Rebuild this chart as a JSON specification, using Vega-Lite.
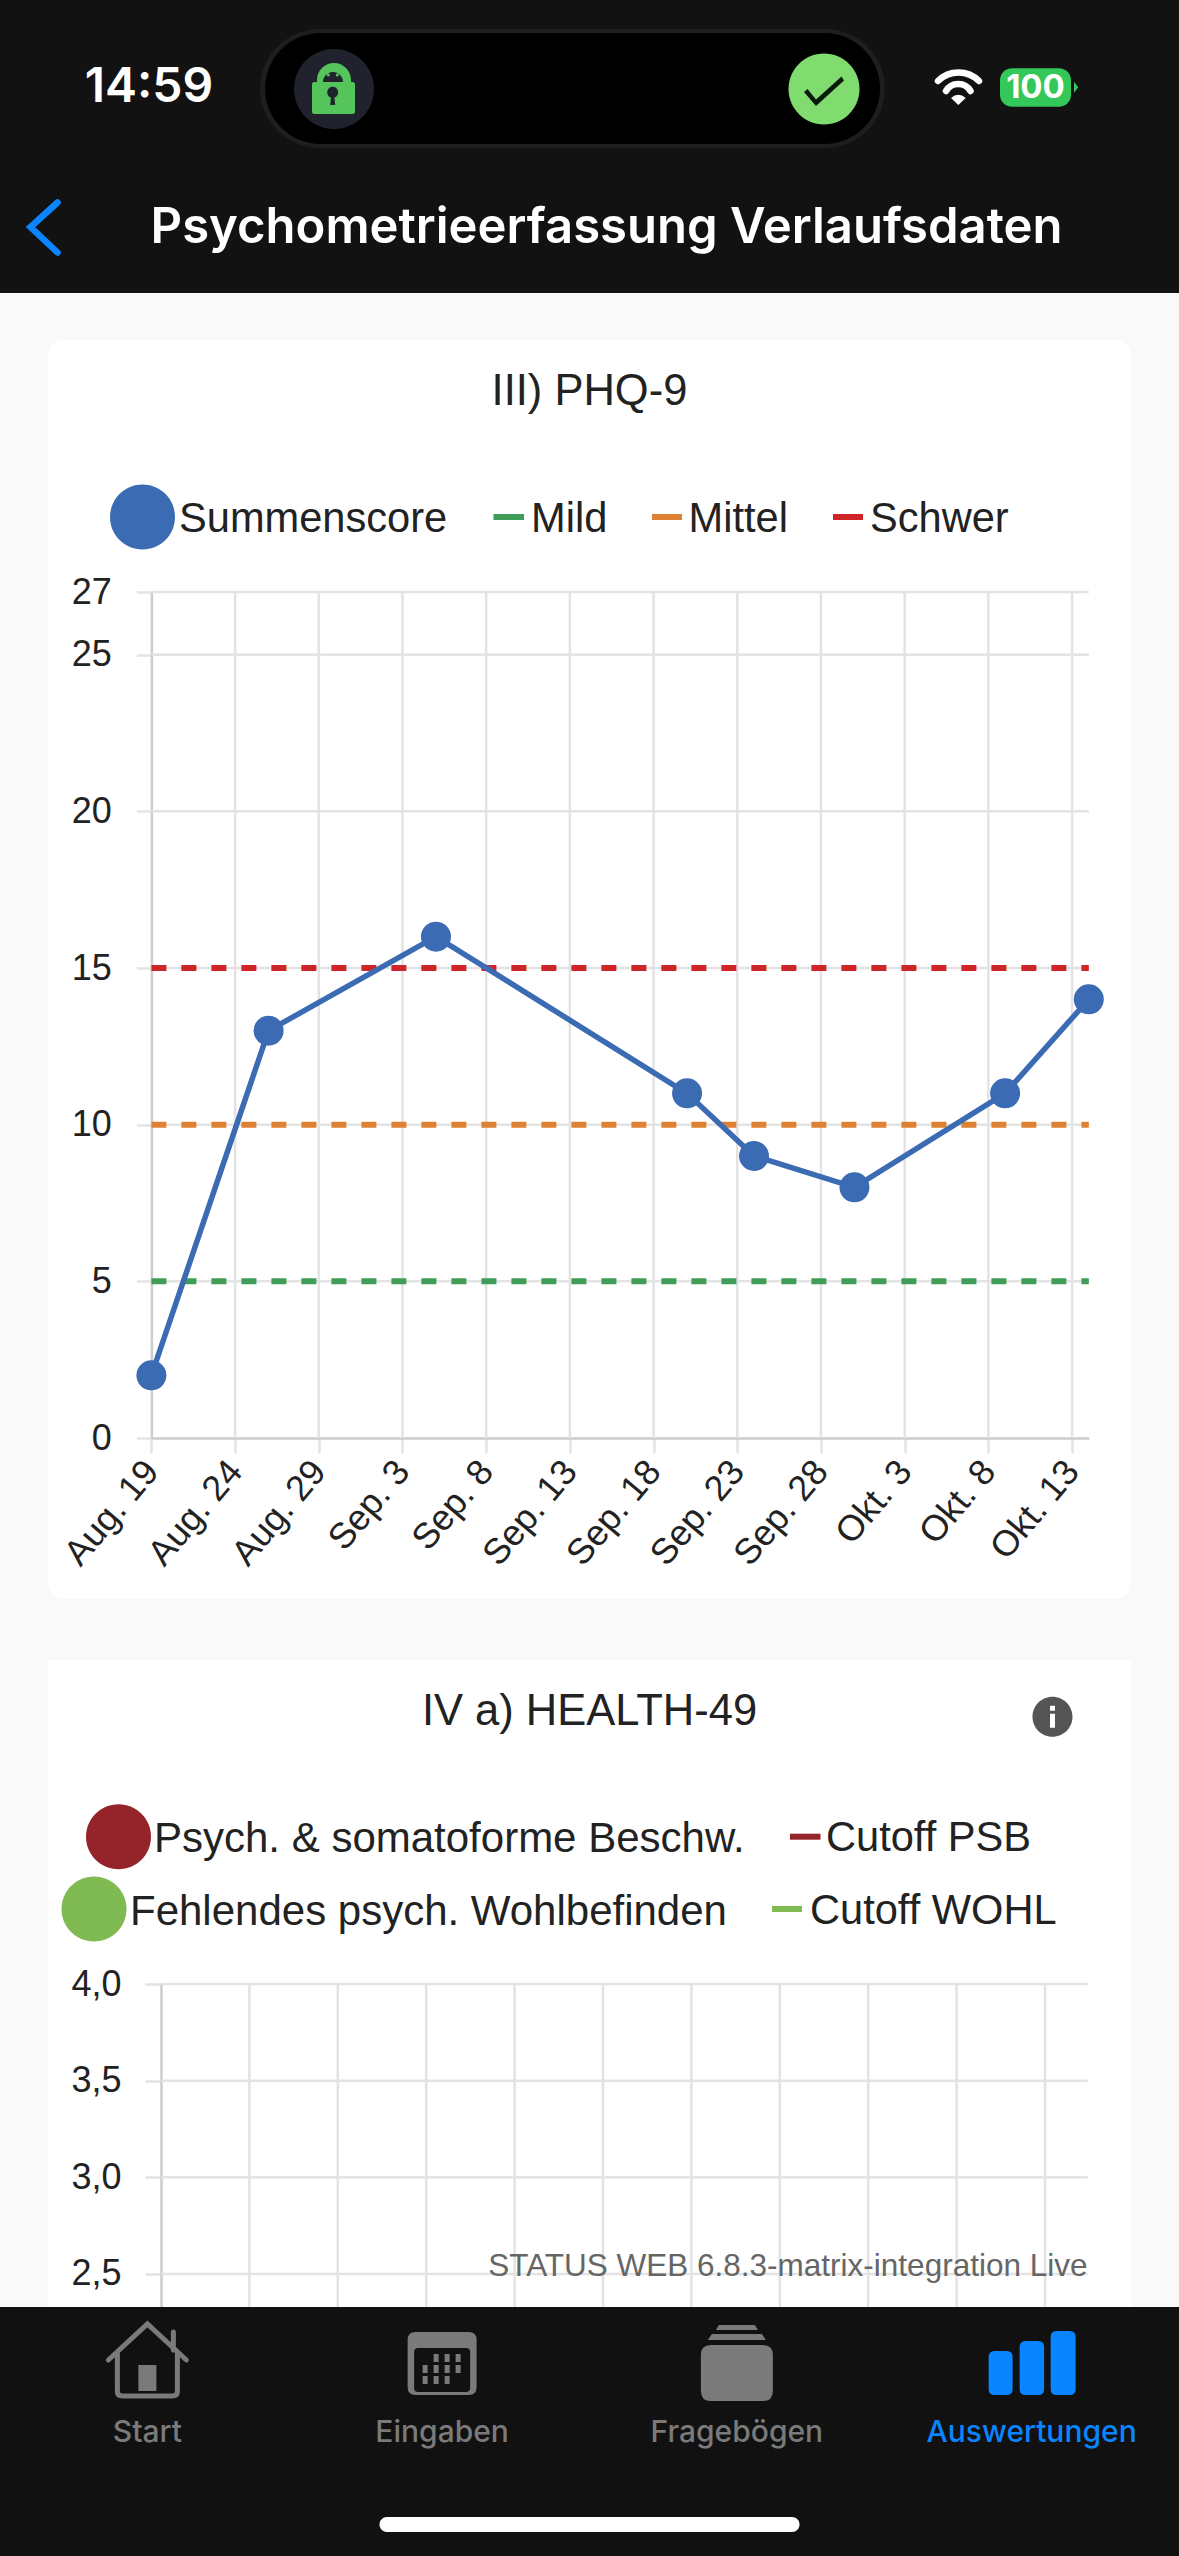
{
  "$schema": "https://vega.github.io/schema/vega-lite/v6.json",
  "padding": 0,
  "autosize": {"type": "pad"},
  "background": "#f9f9f9",
  "bounds": "flush",
  "center": true,
  "spacing": 0,
  "resolve": {"scale": {"color": "independent", "shape": "independent"}},
  "datasets": {
    "phq": [
      {"date": "2025-08-19T00:00:00", "score": 2, "series": "Summenscore"},
      {"date": "2025-08-26T00:00:00", "score": 13, "series": "Summenscore"},
      {"date": "2025-09-05T00:00:00", "score": 16, "series": "Summenscore"},
      {"date": "2025-09-20T00:00:00", "score": 11, "series": "Summenscore"},
      {"date": "2025-09-24T00:00:00", "score": 9, "series": "Summenscore"},
      {"date": "2025-09-30T00:00:00", "score": 8, "series": "Summenscore"},
      {"date": "2025-10-09T00:00:00", "score": 11, "series": "Summenscore"},
      {"date": "2025-10-14T00:00:00", "score": 14, "series": "Summenscore"}
    ],
    "phqCutoffs": [
      {"series": "Mild", "score": 5, "from": "2025-08-19T00:00:00", "to": "2025-10-14T00:00:00"},
      {"series": "Mittel", "score": 10, "from": "2025-08-19T00:00:00", "to": "2025-10-14T00:00:00"},
      {"series": "Schwer", "score": 15, "from": "2025-08-19T00:00:00", "to": "2025-10-14T00:00:00"}
    ],
    "phqLevels": [
      {"score": 5, "from": "2025-08-19T00:00:00", "to": "2025-10-14T00:00:00"},
      {"score": 10, "from": "2025-08-19T00:00:00", "to": "2025-10-14T00:00:00"},
      {"score": 15, "from": "2025-08-19T00:00:00", "to": "2025-10-14T00:00:00"},
      {"score": 20, "from": "2025-08-19T00:00:00", "to": "2025-10-14T00:00:00"},
      {"score": 25, "from": "2025-08-19T00:00:00", "to": "2025-10-14T00:00:00"},
      {"score": 27, "from": "2025-08-19T00:00:00", "to": "2025-10-14T00:00:00"}
    ],
    "phqDates": [
      {"date": "2025-08-24T00:00:00"},
      {"date": "2025-08-29T00:00:00"},
      {"date": "2025-09-03T00:00:00"},
      {"date": "2025-09-08T00:00:00"},
      {"date": "2025-09-13T00:00:00"},
      {"date": "2025-09-18T00:00:00"},
      {"date": "2025-09-23T00:00:00"},
      {"date": "2025-09-28T00:00:00"},
      {"date": "2025-10-03T00:00:00"},
      {"date": "2025-10-08T00:00:00"},
      {"date": "2025-10-13T00:00:00"}
    ],
    "healthLevels": [
      {"score": 2.5, "from": "2025-08-19T00:00:00", "to": "2025-10-10T10:00:00"},
      {"score": 3.0, "from": "2025-08-19T00:00:00", "to": "2025-10-10T10:00:00"},
      {"score": 3.5, "from": "2025-08-19T00:00:00", "to": "2025-10-10T10:00:00"},
      {"score": 4.0, "from": "2025-08-19T00:00:00", "to": "2025-10-10T10:00:00"}
    ],
    "tabs": [
      {"tab": "Start"},
      {"tab": "Eingaben"},
      {"tab": "Fragebögen"},
      {"tab": "Auswertungen"}
    ]
  },
  "vconcat": [
    {
      "width": 1179,
      "height": 293,
      "view": {"fill": "#121212", "stroke": null},
      "layer": [
        {
          "data": {"values": [
            {"item": "island rim"}, {"item": "island"}, {"item": "app badge"}, {"item": "lock"},
            {"item": "check badge"}, {"item": "check"}, {"item": "wifi dot"}, {"item": "battery"}, {"item": "battery cap"}
          ]},
          "mark": {"type": "point", "filled": true, "size": 4, "opacity": 1},
          "encoding": {
            "shape": {"field": "item", "scale": {
              "domain": ["island rim", "island", "app badge", "lock", "check badge", "check", "wifi dot", "battery", "battery cap", "back", "wifi arcs"],
              "range": [
                "M-270,-117.5H236A59.5,59.5 0 0 1 236,1.5H-270A59.5,59.5 0 0 1 -270,-117.5Z",
                "M-269,-113.5H235A55.5,55.5 0 0 1 235,-2.5H-269A55.5,55.5 0 0 1 -269,-113.5Z",
                "M-295.5,-57.5A40,40 0 1 1 -215.5,-57.5A40,40 0 1 1 -295.5,-57.5Z",
                "M-272.5,-64.5V-66.5A17,17 0 0 1 -238.5,-66.5V-64.5H-237Q-234.5,-64.5 -234.5,-62V-35Q-234.5,-32.5 -237,-32.5H-275Q-277.5,-32.5 -277.5,-35V-62Q-277.5,-64.5 -275,-64.5ZM-266.5,-64.5H-246.5A10,10 0 0 0 -266.5,-64.5ZM-262.7,-71.5A1.5,1.5 0 1 1 -259.7,-71.5A1.5,1.5 0 1 1 -262.7,-71.5ZM-253.7,-71.5A1.5,1.5 0 1 1 -250.7,-71.5A1.5,1.5 0 1 1 -253.7,-71.5ZM-259.3,-41.5H-254.3L-255,-49A5.5,5.5 0 1 0 -258.6,-49Z",
                "M199,-57.5A35.5,35.5 0 1 1 270,-57.5A35.5,35.5 0 1 1 199,-57.5Z",
                "M214.5,-54.5L226.5,-40.5L254.5,-66L252,-70L226.5,-47L218,-57.5Z",
                "M368.8,-41.5L361.5,-48.5Q368.8,-55 376.2,-48.5Z",
                "M422.5,-78.2H469.5A12,12 0 0 1 481.5,-66.2V-51.8A12,12 0 0 1 469.5,-39.8H422.5A12,12 0 0 1 410.5,-51.8V-66.2A12,12 0 0 1 422.5,-78.2Z",
                "M484.5,-64.8L488.8,-59.3L484.5,-53.8Z",
                "M-532,56L-559,80.5L-532,106",
                "M348.5,-65.5A29,29 0 0 1 389.5,-65.5M356.5,-55.5A14.2,14.2 0 0 1 381,-55.5"
              ]
            }},
            "color": {"field": "item", "scale": {
              "domain": ["island rim", "island", "app badge", "lock", "check badge", "check", "wifi dot", "battery", "battery cap", "back", "wifi arcs"],
              "range": ["#1e1e1e", "#000000", "#20232e", "#55c45a", "#80dc6e", "#0b1a08", "#ffffff", "#34c759", "#34c759", "#0a84ff", "#ffffff"]
            }}
          }
        },
        {
          "data": {"values": [{"item": "back"}, {"item": "wifi arcs"}]},
          "mark": {"type": "point", "filled": false, "size": 4, "opacity": 1, "strokeWidth": 6.5, "strokeCap": "round"},
          "encoding": {
            "shape": {"field": "item"},
            "color": {"field": "item"}
          }
        },
        {
          "data": {"values": [{"label": "14:59"}]},
          "mark": {"type": "text", "font": "Inter", "fontWeight": 600, "fontSize": 48, "color": "#ffffff", "dx": -440.5, "dy": -58.5},
          "encoding": {"text": {"field": "label"}}
        },
        {
          "data": {"values": [{"label": "100"}]},
          "mark": {"type": "text", "font": "Inter", "fontWeight": 700, "fontSize": 33, "color": "#ffffff", "dx": 446, "dy": -58.5},
          "encoding": {"text": {"field": "label"}}
        },
        {
          "data": {"values": [{"label": "Psychometrieerfassung Verlaufsdaten"}]},
          "mark": {"type": "text", "font": "Inter", "fontWeight": 600, "fontSize": 49, "color": "#ffffff", "dx": 17, "dy": 81.5},
          "encoding": {"text": {"field": "label"}}
        }
      ]
    },
    {"width": 1179, "height": 47, "data": {"values": []}, "mark": "rect"},
    {
      "width": 1083,
      "height": 1259,
      "view": {"fill": "#ffffff", "stroke": null, "cornerRadius": 16},
      "title": {"text": "III) PHQ-9", "offset": -108, "baseline": "alphabetic"},
      "layer": [
        {
          "data": {"name": "phqDates"},
          "mark": {"type": "rule", "color": "#e3e3e3", "strokeWidth": 2.5},
          "encoding": {
            "x": {
              "field": "date",
              "type": "temporal",
              "scale": {"domain": ["2025-08-19T00:00:00", "2025-10-14T00:00:00"], "range": [103.4, 1040.8]},
              "axis": {
                "values": ["2025-08-19T00:00:00", "2025-08-24T00:00:00", "2025-08-29T00:00:00", "2025-09-03T00:00:00", "2025-09-08T00:00:00", "2025-09-13T00:00:00", "2025-09-18T00:00:00", "2025-09-23T00:00:00", "2025-09-28T00:00:00", "2025-10-03T00:00:00", "2025-10-08T00:00:00", "2025-10-13T00:00:00"],
                "labelExpr": "replace(timeFormat(datum.value, '%b. %-d'), 'Oct', 'Okt')",
                "title": null,
                "offset": -161,
                "grid": false,
                "labelAngle": -50,
                "labelAlign": "right",
                "labelBaseline": "middle",
                "labelPadding": 12,
                "labelFontSize": 36,
                "labelColor": "#222222",
                "labelOverlap": false,
                "tickSize": 15,
                "tickColor": "#e3e3e3",
                "tickWidth": 2.5,
                "domainColor": "#cccccc",
                "domainWidth": 2.5
              }
            },
            "y": {
              "datum": 0,
              "scale": {"domain": [0, 27], "range": [1098, 252], "nice": false}
            },
            "y2": {"datum": 27}
          }
        },
        {
          "data": {"name": "phqLevels"},
          "mark": {"type": "rule", "color": "#e3e3e3", "strokeWidth": 2.5},
          "encoding": {
            "y": {"field": "score", "type": "quantitative", "axis": {
              "values": [0, 5, 10, 15, 20, 25, 27],
              "title": null,
              "offset": -103.4,
              "grid": false,
              "labelPadding": 25,
              "labelFontSize": 36,
              "labelColor": "#222222",
              "labelOverlap": false,
              "tickSize": 15,
              "tickColor": "#e3e3e3",
              "tickWidth": 2.5,
              "domainColor": "#cccccc",
              "domainWidth": 2.5
            }},
            "x": {"field": "from", "type": "temporal"},
            "x2": {"field": "to"}
          }
        },
        {
          "data": {"name": "phqCutoffs"},
          "mark": {"type": "rule", "strokeWidth": 6, "strokeDash": [15, 15]},
          "encoding": {
            "y": {"field": "score", "type": "quantitative"},
            "x": {"field": "from", "type": "temporal"},
            "x2": {"field": "to"},
            "color": {"field": "series", "type": "nominal", "scale": {
              "domain": ["Summenscore", "Mild", "Mittel", "Schwer"],
              "range": ["#3b6bb2", "#3f9d57", "#df8132", "#cf2529"]
            }}
          }
        },
        {
          "data": {"name": "phq"},
          "mark": {"type": "line", "strokeWidth": 5.5},
          "encoding": {
            "x": {"field": "date", "type": "temporal"},
            "y": {"field": "score", "type": "quantitative"},
            "color": {"field": "series", "type": "nominal"}
          }
        },
        {
          "data": {"name": "phq"},
          "mark": {"type": "point", "filled": true, "size": 900, "opacity": 1},
          "encoding": {
            "x": {"field": "date", "type": "temporal"},
            "y": {"field": "score", "type": "quantitative"},
            "color": {"field": "series", "type": "nominal"}
          }
        },
        {
          "data": {"values": [{"series": "Summenscore"}, {"series": "Mild"}, {"series": "Mittel"}, {"series": "Schwer"}]},
          "mark": {"type": "point", "filled": true, "size": 4, "opacity": 1},
          "encoding": {
            "shape": {"field": "series", "scale": {
              "domain": ["Summenscore", "Mild", "Mittel", "Schwer"],
              "range": [
                "M-479.5,-452.5A32.5,32.5 0 1 1 -414.5,-452.5A32.5,32.5 0 1 1 -479.5,-452.5Z",
                "M-96,-455.5H-65.5V-449.5H-96Z",
                "M62.5,-455.5H92.5V-449.5H62.5Z",
                "M243.5,-455.5H273.5V-449.5H243.5Z"
              ]
            }},
            "color": {"field": "series", "type": "nominal"}
          }
        },
        {
          "data": {"values": [{"series": "Summenscore"}]},
          "mark": {"type": "text", "align": "left", "fontSize": 41.6, "color": "#222222", "dx": -410.5, "dy": -450},
          "encoding": {"text": {"field": "series"}}
        },
        {
          "data": {"values": [{"series": "Mild"}]},
          "mark": {"type": "text", "align": "left", "fontSize": 41.6, "color": "#222222", "dx": -58.5, "dy": -450},
          "encoding": {"text": {"field": "series"}}
        },
        {
          "data": {"values": [{"series": "Mittel"}]},
          "mark": {"type": "text", "align": "left", "fontSize": 41.6, "color": "#222222", "dx": 99, "dy": -450},
          "encoding": {"text": {"field": "series"}}
        },
        {
          "data": {"values": [{"series": "Schwer"}]},
          "mark": {"type": "text", "align": "left", "fontSize": 41.6, "color": "#222222", "dx": 280.5, "dy": -450},
          "encoding": {"text": {"field": "series"}}
        }
      ]
    },
    {"width": 1179, "height": 61, "data": {"values": []}, "mark": "rect"},
    {
      "width": 1083,
      "height": 647,
      "view": {"fill": "#ffffff", "stroke": null, "style": "openCard"},
      "title": {"text": "IV a) HEALTH-49", "offset": -108, "baseline": "alphabetic"},
      "layer": [
        {
          "data": {"values": [
            {"date": "2025-08-24T00:00:00"},
            {"date": "2025-08-29T00:00:00"},
            {"date": "2025-09-03T00:00:00"},
            {"date": "2025-09-08T00:00:00"},
            {"date": "2025-09-13T00:00:00"},
            {"date": "2025-09-18T00:00:00"},
            {"date": "2025-09-23T00:00:00"},
            {"date": "2025-09-28T00:00:00"},
            {"date": "2025-10-03T00:00:00"},
            {"date": "2025-10-08T00:00:00"}
          ]},
          "mark": {"type": "rule", "color": "#e3e3e3", "strokeWidth": 2.5},
          "encoding": {
            "x": {
              "field": "date",
              "type": "temporal",
              "axis": null,
              "scale": {"domain": ["2025-08-19T00:00:00", "2025-10-08T00:00:00"], "range": [113, 997]}
            },
            "y": {
              "datum": 2.329,
              "scale": {"domain": [2.329, 4], "range": [647, 324], "nice": false, "zero": false}
            },
            "y2": {"datum": 4}
          }
        },
        {
          "data": {"name": "healthLevels"},
          "mark": {"type": "rule", "color": "#e3e3e3", "strokeWidth": 2.5},
          "encoding": {
            "y": {"field": "score", "type": "quantitative", "axis": {
              "values": [2.5, 3, 3.5, 4],
              "labelExpr": "replace(format(datum.value, '.1f'), '.', ',')",
              "title": null,
              "offset": -113,
              "grid": false,
              "labelPadding": 24,
              "labelFontSize": 36,
              "labelColor": "#222222",
              "labelOverlap": false,
              "tickSize": 16,
              "tickColor": "#e3e3e3",
              "tickWidth": 2.5,
              "domainColor": "#cccccc",
              "domainWidth": 2.5
            }},
            "x": {"field": "from", "type": "temporal"},
            "x2": {"field": "to"}
          }
        },
        {
          "data": {"values": [
            {"series": "Psych. & somatoforme Beschw."},
            {"series": "Cutoff PSB"},
            {"series": "Fehlendes psych. Wohlbefinden"},
            {"series": "Cutoff WOHL"},
            {"series": "Info"}
          ]},
          "mark": {"type": "point", "filled": true, "size": 4, "opacity": 1},
          "encoding": {
            "shape": {"field": "series", "scale": {
              "domain": ["Psych. & somatoforme Beschw.", "Cutoff PSB", "Fehlendes psych. Wohlbefinden", "Cutoff WOHL", "Info"],
              "range": [
                "M-503.5,-146.8A32.5,32.5 0 1 1 -438.5,-146.8A32.5,32.5 0 1 1 -503.5,-146.8Z",
                "M200.5,-149.8H231V-143.8H200.5Z",
                "M-528,-74.5A32.5,32.5 0 1 1 -463,-74.5A32.5,32.5 0 1 1 -528,-74.5Z",
                "M182.5,-77.5H212.5V-71.5H182.5Z",
                "M443,-266.8A20,20 0 1 1 483,-266.8A20,20 0 1 1 443,-266.8ZM460.5,-269.8V-255.8H465.5V-269.8ZM460.5,-277.8V-272.8H465.5V-277.8Z"
              ]
            }},
            "color": {"field": "series", "type": "nominal", "scale": {
              "domain": ["Psych. & somatoforme Beschw.", "Cutoff PSB", "Fehlendes psych. Wohlbefinden", "Cutoff WOHL", "Info"],
              "range": ["#94232a", "#94232a", "#7fba52", "#7fba52", "#555555"]
            }}
          }
        },
        {
          "data": {"values": [{"series": "Psych. & somatoforme Beschw."}]},
          "mark": {"type": "text", "align": "left", "fontSize": 42, "color": "#222222", "dx": -435.5, "dy": -144.3},
          "encoding": {"text": {"field": "series"}}
        },
        {
          "data": {"values": [{"series": "Cutoff PSB"}]},
          "mark": {"type": "text", "align": "left", "fontSize": 41.6, "color": "#222222", "dx": 236.5, "dy": -144.3},
          "encoding": {"text": {"field": "series"}}
        },
        {
          "data": {"values": [{"series": "Fehlendes psych. Wohlbefinden"}]},
          "mark": {"type": "text", "align": "left", "fontSize": 42, "color": "#222222", "dx": -459.5, "dy": -72},
          "encoding": {"text": {"field": "series"}}
        },
        {
          "data": {"values": [{"series": "Cutoff WOHL"}]},
          "mark": {"type": "text", "align": "left", "fontSize": 41.6, "color": "#222222", "dx": 220.5, "dy": -72},
          "encoding": {"text": {"field": "series"}}
        },
        {
          "data": {"values": [{"label": "STATUS WEB 6.8.3-matrix-integration Live"}]},
          "mark": {"type": "text", "align": "right", "fontSize": 31.5, "color": "#666666", "dx": 498, "dy": 283.5},
          "encoding": {"text": {"field": "label"}}
        }
      ]
    },
    {
      "width": 1179,
      "height": 249,
      "view": {"fill": "#111111", "stroke": null},
      "layer": [
        {
          "data": {"name": "tabs"},
          "mark": {"type": "point", "filled": true, "size": 4, "opacity": 1},
          "encoding": {
            "x": {"field": "tab", "type": "nominal", "axis": null, "sort": null},
            "shape": {"field": "tab", "scale": {
              "domain": ["Start", "Eingaben", "Fragebögen", "Auswertungen"],
              "range": [
                "M-9,-66.5H9V-40.5H-9Z",
                "M-26.5,-99.5H26.5Q34.5,-99.5 34.5,-91.5V-44.5Q34.5,-36.5 26.5,-36.5H-26.5Q-34.5,-36.5 -34.5,-44.5V-91.5Q-34.5,-99.5 -26.5,-99.5ZM-24,-83.5Q-28,-83.5 -28,-79.5V-43.5Q-28,-39.5 -24,-39.5H24Q28,-39.5 28,-43.5V-79.5Q28,-83.5 24,-83.5ZM-8.5,-77.5h5v8h-5zM2.5,-77.5h5v8h-5zM13.5,-77.5h5v8h-5zM-19.5,-66.5h5v8h-5zM-8.5,-66.5h5v8h-5zM2.5,-66.5h5v8h-5zM13.5,-66.5h5v8h-5zM-19.5,-55.5h5v8h-5zM-8.5,-55.5h5v8h-5zM2.5,-55.5h5v8h-5z",
                "M-18,-106.5H18L21,-101.5H-21ZM-25,-97.5H25L29,-91.5H-29ZM-26,-86.5H26Q36,-86.5 36,-76.5V-40.5Q36,-30.5 26,-30.5H-26Q-36,-30.5 -36,-40.5V-76.5Q-36,-86.5 -26,-86.5Z",
                "M-37,-80.5H-25Q-19,-80.5 -19,-74.5V-42.5Q-19,-36.5 -25,-36.5H-37Q-43,-36.5 -43,-42.5V-74.5Q-43,-80.5 -37,-80.5ZM-6,-90.5H6.5Q12.5,-90.5 12.5,-84.5V-42.5Q12.5,-36.5 6.5,-36.5H-6Q-12,-36.5 -12,-42.5V-84.5Q-12,-90.5 -6,-90.5ZM25,-100.5H38Q44,-100.5 44,-94.5V-42.5Q44,-36.5 38,-36.5H25Q19,-36.5 19,-42.5V-94.5Q19,-100.5 25,-100.5Z"
              ]
            }},
            "color": {"field": "tab", "scale": {
              "domain": ["Start", "Eingaben", "Fragebögen", "Auswertungen"],
              "range": ["#7a7a7a", "#7a7a7a", "#7a7a7a", "#0a84ff"]
            }}
          }
        },
        {
          "data": {"name": "tabs"},
          "transform": [{"filter": "datum.tab === 'Start'"}],
          "mark": {
            "type": "point",
            "filled": false,
            "size": 4,
            "opacity": 1,
            "strokeWidth": 5,
            "strokeCap": "round",
            "color": "#7a7a7a",
            "shape": "M-39,-71.5L0,-107.5L39,-71.5M26,-99.5V-81.5M-30,-79.5V-40Q-30,-35.5 -25,-35.5H25Q30,-35.5 30,-40V-79.5"
          },
          "encoding": {
            "x": {"field": "tab", "type": "nominal", "sort": null}
          }
        },
        {
          "data": {"name": "tabs"},
          "mark": {"type": "text", "font": "Inter", "fontWeight": 500, "fontSize": 30, "dy": 1.5},
          "encoding": {
            "x": {"field": "tab", "type": "nominal", "sort": null},
            "text": {"field": "tab"},
            "color": {"field": "tab"}
          }
        },
        {
          "data": {"values": [{"item": "home indicator"}]},
          "mark": {"type": "point", "filled": true, "size": 4, "opacity": 1, "color": "#ffffff", "shape": "M-202.5,85.5H202.5A7.5,7.5 0 0 1 202.5,100.5H-202.5A7.5,7.5 0 0 1 -202.5,85.5Z"},
          "encoding": {"detail": {"field": "item"}}
        }
      ]
    }
  ],
  "config": {
    "font": "Liberation Sans",
    "view": {"stroke": null},
    "legend": {"disable": true},
    "style": {"openCard": {"cornerRadiusTopLeft": 16, "cornerRadiusTopRight": 16}},
    "title": {"font": "Liberation Sans", "fontSize": 43.5, "fontWeight": "normal", "color": "#222222", "anchor": "middle"},
    "axis": {"labelFont": "Liberation Sans"}
  }
}
